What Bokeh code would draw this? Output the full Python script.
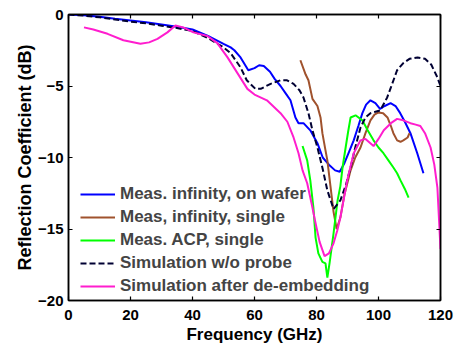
from bokeh.plotting import figure
from bokeh.models import LinearAxis, Range1d, FixedTicker, Legend, LegendItem
from bokeh.embed import file_html
from bokeh.resources import INLINE

# ---- data ----
x_ticks = [0, 20, 40, 60, 80, 100, 120]
y_ticks = [-20, -15, -10, -5, 0]

blue_x = [0, 5, 10, 15, 20, 25, 30, 35, 40, 45, 50, 52.3, 53.5, 55.5, 58, 60, 61.5, 63, 65, 66.5,
          68.4, 70, 71.6, 73.2, 74.2, 75.8, 78, 80.3, 82, 84, 86, 87.5, 89, 90.5, 92, 93.5, 94.8,
          96, 97.4, 99, 100.5, 102, 103.9, 105.5, 107, 108.5, 110.3, 112.5, 114.5]
blue_y = [0, -0.05, -0.15, -0.3, -0.42, -0.55, -0.7, -0.85, -1.05, -1.5, -2.05, -2.3, -2.5, -3.0, -3.9,
          -3.75, -3.55, -3.6, -4.0, -4.5, -5.0, -5.5, -6.0, -7.2, -7.6, -7.6, -8.1, -9.0, -10.0,
          -10.5, -10.9, -11.0, -10.4, -9.6, -8.8, -7.8, -6.9, -6.3, -6.0, -6.2, -6.6, -6.4, -6.2,
          -6.4, -6.9, -7.5, -8.3, -9.7, -11.1]

brown_x = [74.8, 76.5, 77.4, 78.7, 80.3, 81.3, 81.9, 82.9, 83.5, 84.5, 85.5, 86.5, 87.7, 89, 91,
           92.5, 94.2, 95.8, 97.4, 98.7, 100, 101.5, 102.9, 104, 104.8, 106, 107.1, 108, 109.4, 110]
brown_y = [-3.2, -4.2, -4.6, -5.9, -6.4, -7.2, -8.3, -9.5, -10.2, -12.0, -13.8, -15.0, -14.2, -12.6,
           -10.9, -10.0, -9.3, -8.3, -7.4, -7.0, -6.85, -6.9, -7.2, -7.8, -8.3, -8.8, -8.9, -8.8,
           -8.6, -8.3]

green_x = [75.5, 77, 78, 79, 79.7, 80.6, 81.9, 82.9, 83.5, 84.2, 85.5, 86.8, 87.7, 88.4, 89.4, 90.2,
           91, 92.6, 94.8, 96.5, 98.4, 100, 101.6, 103.2, 104.8, 106, 107.1, 108.5, 109.7]
green_y = [-9.2, -10.2, -11.6, -13.5, -15.6, -16.7, -17.3, -17.4, -18.4, -17.4, -15.3, -13.0, -12.0,
           -10.7, -9.3, -8.2, -7.2, -7.05, -7.4, -8.1, -8.8, -9.3, -9.7, -10.2, -10.7, -11.1, -11.6,
           -12.2, -12.8]

sim_x = [0, 5, 10, 15, 20, 25, 30, 35, 40, 45, 50, 52.3, 55.5, 57.5, 60.3, 62, 65.2, 68.4, 70.5,
         72.6, 74.5, 75.8, 77.4, 78.7, 80.3, 82, 83.5, 85.5, 87.7, 89.5, 91, 92.5, 94.2, 95.8, 97.4,
         99, 100.6, 102.8, 104, 106, 108, 110, 112.6, 115, 117, 119, 120]
sim_y = [0, -0.08, -0.2, -0.35, -0.5, -0.62, -0.78, -0.95, -1.15, -1.65, -2.3, -2.7, -3.7, -4.6,
         -5.2, -5.2, -4.85, -4.6, -4.6, -4.85, -5.3, -5.8, -6.9, -8.1, -9.3, -10.8, -12.3, -13.6,
         -13.0, -11.9, -10.7, -9.3, -7.9, -7.2, -6.9, -6.8, -6.7, -5.8, -5.1, -3.9, -3.4, -3.1,
         -3.0, -3.1, -3.5, -4.4, -5.0]

deemb_x = [5, 8, 12.6, 17.7, 23.2, 26, 28.7, 31.9, 34.5, 37, 40.3, 44.8, 48, 51.3, 54.5, 57.7, 60,
           64, 68.4, 70.6, 72.6, 74.2, 75.5, 77, 78.5, 79.7, 81, 82.6, 84, 85.5, 86.7, 87.7, 89.9,
           92, 94.2, 95.8, 98.4, 100, 101.7, 104, 106, 108, 110.3, 112, 113.5, 115, 116.8, 118,
           119, 120]
deemb_y = [-0.9, -1.05, -1.35, -1.8, -2.05, -1.95, -1.7, -1.25, -0.77, -0.9, -1.25, -1.5, -2.0,
           -3.0, -4.1, -5.2, -5.6, -6.0, -6.9, -7.5, -8.6, -9.7, -10.9, -11.8, -13.3, -14.6, -15.9,
           -16.9, -16.7, -16.0, -15.1, -14.2, -11.6, -9.7, -8.8, -8.7, -9.2, -8.7, -8.1, -7.6, -7.3,
           -7.4, -7.6, -7.7, -7.8, -8.3, -9.3, -10.5, -12.1, -16.4]

labels = ["Meas. infinity, on wafer", "Meas, infinity, single", "Meas. ACP, single",
          "Simulation w/o probe", "Simulation after de-embedding"]

FONT = "Liberation Sans"

p = figure(width=454, height=346,
           x_range=Range1d(0, 120), y_range=Range1d(-20, 0),
           output_backend="svg", toolbar_location=None,
           min_border_left=68, min_border_right=14, min_border_top=14, min_border_bottom=46,
           background_fill_color="white", border_fill_color="white")
p.grid.visible = False
p.outline_line_color = "black"
p.outline_line_width = 1.5

for ax in (p.xaxis[0], p.yaxis[0]):
    ax.major_tick_in = 4
    ax.major_tick_out = 0
    ax.minor_tick_line_color = None
    ax.axis_line_width = 1.5
    ax.major_tick_line_width = 1.2
    ax.major_label_text_font = FONT
    ax.major_label_text_font_style = "bold"
    ax.major_label_text_font_size = "15px"
    ax.major_label_text_color = "black"
    ax.axis_label_text_font = FONT
    ax.axis_label_text_font_style = "bold"
    ax.axis_label_text_color = "black"

p.xaxis[0].ticker = FixedTicker(ticks=x_ticks)
p.yaxis[0].ticker = FixedTicker(ticks=y_ticks)
p.xaxis[0].axis_label = "Frequency (GHz)"
p.yaxis[0].axis_label = "Reflection Coefficient (dB)"
p.xaxis[0].axis_label_text_font_size = "17px"
p.yaxis[0].axis_label_text_font_size = "18px"
p.xaxis[0].major_label_standoff = 9
p.yaxis[0].major_label_standoff = 5
p.xaxis[0].axis_label_standoff = 2
p.yaxis[0].axis_label_standoff = 0

top = LinearAxis(ticker=FixedTicker(ticks=x_ticks))
right = LinearAxis(ticker=FixedTicker(ticks=y_ticks))
for ax in (top, right):
    ax.major_tick_in = 4
    ax.major_tick_out = 0
    ax.minor_tick_line_color = None
    ax.axis_line_width = 1.5
    ax.major_tick_line_width = 1.2
    ax.major_label_text_font_size = "0px"
    ax.major_label_text_color = None
    ax.major_label_standoff = 0
p.add_layout(top, "above")
p.add_layout(right, "right")

r1 = p.line(blue_x, blue_y, line_color="#0000FF", line_width=2)
r2 = p.line(brown_x, brown_y, line_color="#A0522D", line_width=2)
r3 = p.line(green_x, green_y, line_color="#00FF00", line_width=2)
r4 = p.line(sim_x, sim_y, line_color="#000033", line_width=2, line_dash="6 3")
r5 = p.line(deemb_x, deemb_y, line_color="#FF1DCE", line_width=2)

legend = Legend(items=[LegendItem(label=l, renderers=[r]) for l, r in zip(labels, [r1, r2, r3, r4, r5])],
                location=(12, 4), padding=0, margin=0, spacing=3,
                glyph_width=35, glyph_height=20, label_height=20, label_standoff=5,
                label_text_font=FONT, label_text_font_style="bold", label_text_font_size="17px",
                border_line_color=None, background_fill_alpha=0)
p.add_layout(legend)

open("out.html", "w").write(file_html(p, INLINE))
